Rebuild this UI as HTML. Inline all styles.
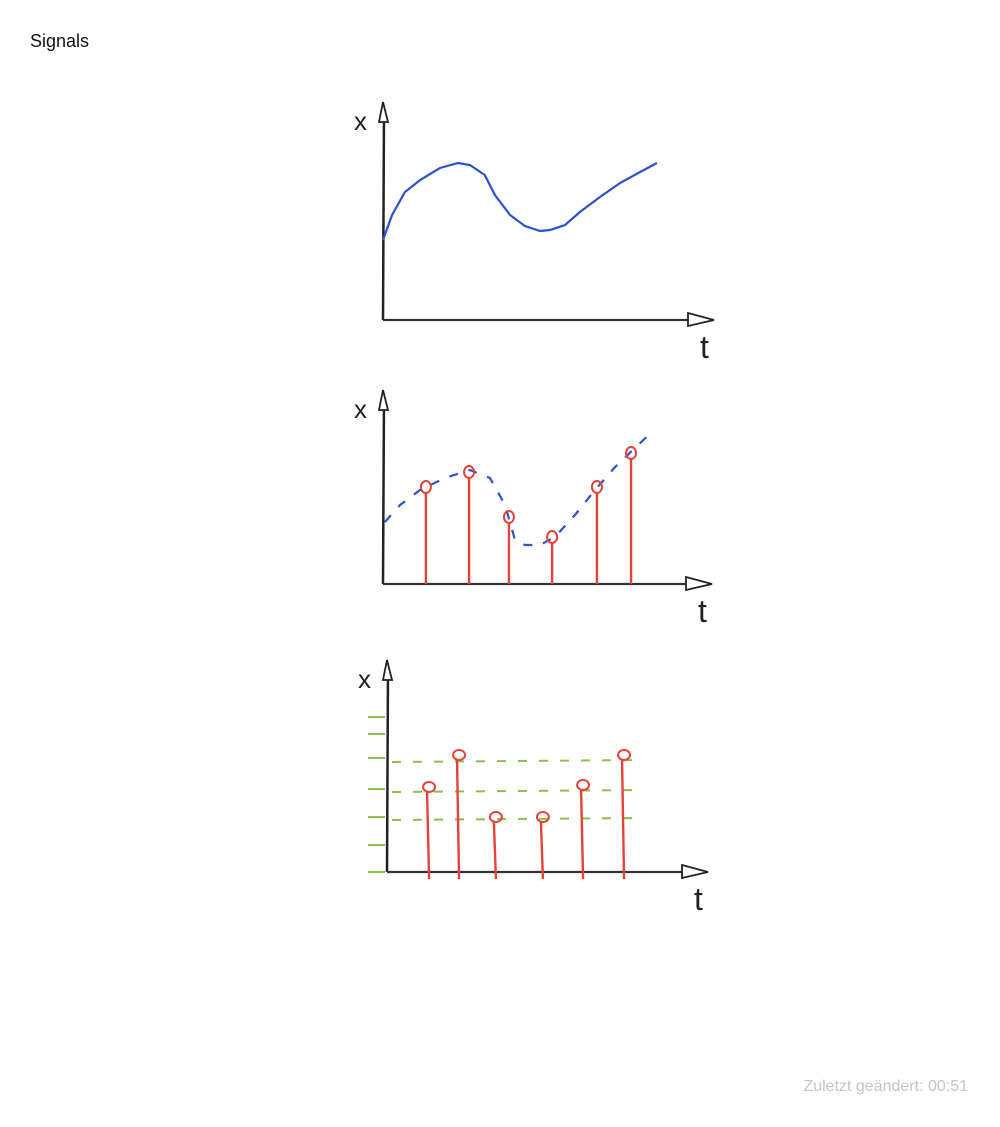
<!DOCTYPE html>
<html><head><meta charset="utf-8"><style>
html,body{margin:0;padding:0;background:#fff;width:1000px;height:1127px;overflow:hidden;font-family:"Liberation Sans",Arial,sans-serif}
#title{position:absolute;left:30px;top:31px;font-size:18px;color:#111}
#footer{position:absolute;right:32px;top:1078px;font-size:16px;color:#c4c4c4}
svg{position:absolute;left:0;top:0}
</style></head><body>
<div id="title">Signals</div>
<svg id="chart" width="1000" height="1127"></svg>
<div id="footer">Zuletzt geändert: 00:51</div>
<script>
// Chart 1: continuous signal
const contT=[0,0.33,0.8,1.35,2.07,2.73,3.16,3.7,4.07,4.62,5.16,5.71,6.07,6.62,7.16,7.89,8.62,9.35,9.96];
const contX=[4.0,5.25,6.4,7.0,7.6,7.85,7.75,7.25,6.25,5.25,4.7,4.45,4.5,4.75,5.4,6.15,6.85,7.4,7.85];
// Chart 2: sampled signal
const dashT=[0.07,0.62,1.35,2.25,3.16,3.89,4.44,4.8,5.16,5.71,6.25,6.98,7.71,8.44,9.16,9.78];
const dashX=[3.1,3.95,4.7,5.3,5.7,5.3,3.95,2.2,1.95,1.95,2.35,3.45,4.7,5.85,6.8,7.6];
const sampT=[1.56,3.13,4.58,6.15,7.78,9.02];
const sampX=[4.85,5.6,3.35,2.35,4.85,6.55];
// Chart 3: quantized signal
const levelTicks=[0,1.35,2.75,4.15,5.7,6.9,7.75];
const levelLines=[2.6,4.0,5.5];
const quantT=[1.53,2.62,3.96,5.67,7.13,8.62];
const quantX=[4.25,5.85,2.75,2.75,4.35,5.85];

const NS="http://www.w3.org/2000/svg";
const svg=document.getElementById('chart');
function mk(tag,attrs,name){const e=document.createElementNS(NS,tag);for(const k in attrs)e.setAttribute(k,attrs[k]);


svg.appendChild(e);return e;}
function axes(ox,oy,top,right,yEnd){
  mk('path',{d:`M${ox},${oy} L${ox+1},${top}`,stroke:'#222','stroke-width':2.5,fill:'none'},'y-axis');
  mk('path',{d:`M${ox-4},${top+12} L${ox},${top-8} L${ox+5},${top+12} Z`,stroke:'#222','stroke-width':1.8,fill:'#fff'},'y-axis-arrow');
  mk('path',{d:`M${ox},${yEnd} L${right-20},${yEnd}`,stroke:'#333','stroke-width':2.2,fill:'none'},'x-axis');
  mk('path',{d:`M${right-26},${yEnd-7} L${right},${yEnd} L${right-26},${yEnd+6} Z`,stroke:'#222','stroke-width':1.8,fill:'#fff'},'x-axis-arrow');
  const xl=mk('text',{x:ox-29,y:top+20,'font-size':26,'font-family':'Liberation Sans, sans-serif',fill:'#222'},'y-axis-title');xl.textContent='x';
  const tl=mk('text',{x:right-14,y:yEnd+38,'font-size':32,'font-family':'Liberation Sans, sans-serif',fill:'#222'},'x-axis-title');tl.textContent='t';
}
const SX=27.5, SY=20;
// chart 1
(function(){const ox=383,oy=320;const sx=t=>ox+t*SX, sy=v=>oy-v*SY;
axes(ox,oy,110,714,oy);
mk('path',{d:contT.map((t,i)=>(i?'L':'M')+sx(t)+','+sy(contX[i])).join(' '),stroke:'#2a52d0','stroke-width':2.2,fill:'none'},'continuous-signal-line');})();
// chart 2
(function(){const ox=383,oy=584;const sx=t=>ox+t*SX, sy=v=>oy-v*SY;
axes(ox,oy,398,712,oy);
mk('path',{d:dashT.map((t,i)=>(i?'L':'M')+sx(t)+','+sy(dashX[i])).join(' '),stroke:'#2a52d0','stroke-width':2.2,fill:'none','stroke-dasharray':'9 11'},'underlying-signal-dashed');
sampT.forEach((t,i)=>{
  mk('line',{x1:sx(t),y1:oy,x2:sx(t),y2:sy(sampX[i])+5,stroke:'#e8413a','stroke-width':2.4},'sample-stem');
  mk('ellipse',{cx:sx(t),cy:sy(sampX[i]),rx:5,ry:6,stroke:'#e8413a','stroke-width':2,fill:'none'},'sample-point');
});})();
// chart 3
(function(){const ox=387,oy=872;const sx=t=>ox+t*SX, sy=v=>oy-v*SY;
levelTicks.forEach(v=>mk('line',{x1:368,y1:sy(v),x2:385,y2:sy(v),stroke:'#8cc04a','stroke-width':2},'level-tick'));
levelLines.forEach(v=>mk('line',{x1:392,y1:sy(v),x2:642,y2:sy(v)-2,stroke:'#8cc04a','stroke-width':2,'stroke-dasharray':'9 12'},'quantization-level-line'));
axes(ox,oy,668,708,oy);
quantT.forEach((t,i)=>{
  mk('line',{x1:sx(t),y1:oy+7,x2:sx(t)-2,y2:sy(quantX[i])+5,stroke:'#e8413a','stroke-width':2.4},'quantized-stem');
  mk('ellipse',{cx:sx(t),cy:sy(quantX[i]),rx:6,ry:5,stroke:'#e8413a','stroke-width':2,fill:'none'},'quantized-point');
});})();
</script>
</body></html>
